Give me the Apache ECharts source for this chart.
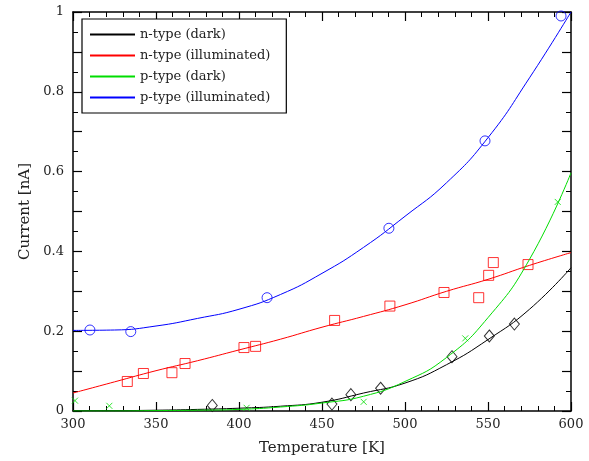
<!DOCTYPE html>
<html><head><meta charset="utf-8">
<script src="https://cdn.jsdelivr.net/npm/echarts@6/dist/echarts.min.js"></script>
<style>html,body{margin:0;padding:0;background:#fff}#c{width:589px;height:461px}</style>
</head><body><div id="c"></div>
<script>
// Fit curves
const fitT = [300,325,350,375,400,425,450,475,500,525,550,575,600];
const nDarkFit = [0.001,0.001,0.002,0.004,0.007,0.012,0.022,0.045,0.070,0.116,0.179,0.255,0.359];
const nIllFit  = [0.045,0.073,0.101,0.126,0.153,0.180,0.210,0.237,0.266,0.300,0.330,0.365,0.397];
const pDarkFit = [0.000,0.000,0.001,0.002,0.004,0.010,0.020,0.037,0.074,0.134,0.234,0.380,0.597];
const pIllFit  = [0.202,0.203,0.213,0.232,0.255,0.292,0.345,0.410,0.488,0.572,0.685,0.835,1.000];
// Measured points
const nDarkT = [383.9,456.0,467.4,485.3,528.3,550.8,565.9];
const nDarkI = [0.014,0.0175,0.041,0.057,0.136,0.188,0.218];
const nIllT = [332.7,342.4,359.6,367.5,403.0,410.0,457.6,490.9,523.5,544.4,550.4,553.2,574.1];
const nIllI = [0.074,0.094,0.096,0.119,0.159,0.162,0.227,0.263,0.297,0.284,0.340,0.372,0.367];
const pDarkT = [301.2,321.9,404.6,475.1,536.3,592.0];
const pDarkI = [0.026,0.013,0.008,0.023,0.182,0.524];
const pIllT = [310.2,334.8,416.9,490.3,548.2,594.0];
const pIllI = [0.203,0.199,0.284,0.458,0.677,0.990];
const names = ['n-type (dark)','n-type (illuminated)','p-type (dark)','p-type (illuminated)'];
const colors = ['#000000','#ff0000','#00dd00','#0000ff'];
const xTicks = {min:300,max:600,step:50};
const yTicks = {min:0,max:1,step:0.1};

const zip = (a,b)=>a.map((v,i)=>[v,b[i]]);
const FONT = 'DejaVu Serif';
const axisLine = {show:true,onZero:false,lineStyle:{color:'#000',width:1.5}};
const axisTick = {show:true,inside:true,length:9,lineStyle:{color:'#000',width:1.2}};
const fits = [nDarkFit,nIllFit,pDarkFit,pIllFit];
const chart = echarts.init(document.getElementById('c'),null,{renderer:'canvas'});
chart.setOption({
  animation:false,
  backgroundColor:'#fff',
  color:colors,
  textStyle:{fontFamily:FONT},
  grid:{left:73,top:12,right:18,bottom:49},
  legend:{
    left:82, top:19, orient:'vertical',
    data:names,
    icon:'rect',
    itemWidth:45, itemHeight:2, itemGap:6,
    backgroundColor:'#fff', borderColor:'#000', borderWidth:1.2,
    padding:[8,16,8,8],
    textStyle:{fontFamily:FONT,fontSize:13,color:'#222',lineHeight:15}
  },
  xAxis:[
    {type:'value',position:'bottom',min:xTicks.min,max:xTicks.max,interval:xTicks.step,
      axisLine:axisLine,axisTick:axisTick,splitLine:{show:false},
      minorTick:{show:true,splitNumber:5,length:5,lineStyle:{color:'#000',width:1}},
      axisLabel:{color:'#222',fontSize:13,fontFamily:FONT,margin:7},
      name:'Temperature [K]',nameLocation:'middle',nameGap:30,
      nameTextStyle:{fontFamily:FONT,fontSize:15,color:'#222'}},
    {type:'value',position:'top',min:xTicks.min,max:xTicks.max,interval:xTicks.step,
      axisLine:axisLine,axisTick:axisTick,
      minorTick:{show:true,splitNumber:5,length:5,lineStyle:{color:'#000',width:1}},
      axisLabel:{show:false},splitLine:{show:false}}
  ],
  yAxis:[
    {type:'value',position:'left',min:yTicks.min,max:yTicks.max,interval:yTicks.step,
      axisLine:axisLine,axisTick:axisTick,
      minorTick:{show:true,splitNumber:2,length:5,lineStyle:{color:'#000',width:1}},
      splitLine:{show:false},
      axisLabel:{color:'#222',fontSize:13,fontFamily:FONT,margin:9,
        formatter:v=>{const k=Math.round(v*10);return k%2===0?String(+(k/10).toFixed(1)):'';}},
      name:'Current [nA]',nameLocation:'middle',nameGap:38,nameRotate:90,
      nameTextStyle:{fontFamily:FONT,fontSize:15,color:'#222'}},
    {type:'value',position:'right',min:yTicks.min,max:yTicks.max,interval:yTicks.step,
      axisLine:axisLine,axisTick:axisTick,
      minorTick:{show:true,splitNumber:2,length:5,lineStyle:{color:'#000',width:1}},
      axisLabel:{show:false},splitLine:{show:false}}
  ],
  series:names.map((n,i)=>({name:n,type:'line',smooth:true,symbol:'none',data:zip(fitT,fits[i]),
      lineStyle:{color:colors[i],width:1},itemStyle:{color:colors[i]},clip:true})).concat([
    {type:'scatter',data:zip(nDarkT,nDarkI),symbol:'diamond',symbolSize:[10,12],itemStyle:{color:'#fff',borderColor:'#000',borderWidth:1}},
    {type:'scatter',data:zip(nIllT,nIllI),symbol:'rect',symbolSize:10,itemStyle:{color:'rgba(0,0,0,0)',borderColor:'#ff0000',borderWidth:1}},
    {type:'scatter',data:zip(pDarkT,pDarkI),symbol:'path://M0,0L10,10M10,0L0,10',symbolSize:6,itemStyle:{color:'rgba(0,0,0,0)',borderColor:'#00dd00',borderWidth:1}},
    {type:'scatter',data:zip(pIllT,pIllI),symbol:'circle',symbolSize:10,itemStyle:{color:'rgba(0,0,0,0)',borderColor:'#0000ff',borderWidth:1}}
  ])
});
</script></body></html>
